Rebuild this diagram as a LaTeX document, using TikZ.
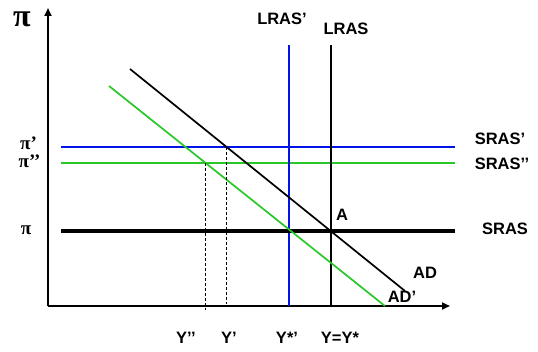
\documentclass[tikz,border=0pt]{standalone}
\usepackage{fontspec}
\setmainfont{Liberation Sans}
\newfontfamily\serifb{Liberation Serif}
\usetikzlibrary{arrows.meta}
\definecolor{lblue}{RGB}{0,20,230}
\definecolor{lgreen}{RGB}{40,200,40}
\begin{document}
\begin{tikzpicture}[x=1pt,y=-1pt,
  lab/.style={font=\bfseries\fontsize{16.5}{16.5}\selectfont, inner sep=0pt},
  plab/.style={font=\serifb\bfseries\fontsize{19}{19}\selectfont, inner sep=0pt, text height=9pt, text depth=0pt, anchor=base},
  axis/.style={line width=2.2pt, -{Triangle[length=8pt,width=7pt]}},
  dashline/.style={dashed, line width=0.5pt, dash pattern=on 3pt off 2pt}]
\useasboundingbox (0,0) rectangle (538,352);
% coordinates
\coordinate (O) at (48,306);
\coordinate (ytop) at (48,8);
\coordinate (xend) at (450,306);
% axes
\draw[axis] (O) -- (ytop);
\draw[axis] (O) -- (xend);
% horizontal lines
\coordinate (s1a) at (61,147); \coordinate (s1b) at (455,147);
\coordinate (s2a) at (61,163); \coordinate (s2b) at (455,163);
\coordinate (s0a) at (61,231); \coordinate (s0b) at (455,231);
\draw[lblue, line width=2.2pt] (s1a) -- (s1b);
\draw[lgreen, line width=2.2pt] (s2a) -- (s2b);
% verticals
\coordinate (l1a) at (289,45); \coordinate (l1b) at (289,306);
\coordinate (l0a) at (331,45); \coordinate (l0b) at (331,306);
\draw[lblue, line width=2.2pt] (l1a) -- (l1b);
\draw[black, line width=1.5pt] (l0a) -- (l0b);
\draw[line width=3.2pt] (s0a) -- (s0b);
% AD lines
\coordinate (ada) at (130,69); \coordinate (adb) at (405,291);
\coordinate (ad2a) at (109,86); \coordinate (ad2b) at (385,306);
\draw[line width=1.7pt] (ada) -- (adb);
\draw[lgreen, line width=1.7pt] (ad2a) -- (ad2b);
% dashed
\coordinate (d1a) at (205,163); \coordinate (d1b) at (205,310);
\coordinate (d2a) at (226,147); \coordinate (d2b) at (226,304);
\draw[dashline] (d1a) -- (d1b);
\draw[dashline] (d2a) -- (d2b);
% labels
\node[plab, font=\serifb\bfseries\fontsize{32}{32}\selectfont, text height=15pt] (pi) at (22,27) {π};
\node[plab] (pi1) at (28.5,150) {π’};
\node[plab] (pi2) at (29.5,168) {π’’};
\node[plab] (pi0) at (26,235) {π};
\node[lab] (lras1) at (282,19) {LRAS’};
\node[lab] (lras) at (346,29) {LRAS};
\node[lab] (sras1) at (500,139) {SRAS’};
\node[lab] (sras2) at (502,164) {SRAS’’};
\node[lab] (sras) at (505,229) {SRAS};
\node[lab] (A) at (342,215) {A};
\node[lab] (AD) at (425,273) {AD};
\node[lab] (AD2) at (402,297) {AD’};
\node[lab] (y2) at (186,338) {Y’’};
\node[lab] (y1) at (229,338) {Y’};
\node[lab] (ys) at (287,338) {Y*’};
\node[lab] (yy) at (340,338) {Y=Y*};
\end{tikzpicture}
\end{document}
